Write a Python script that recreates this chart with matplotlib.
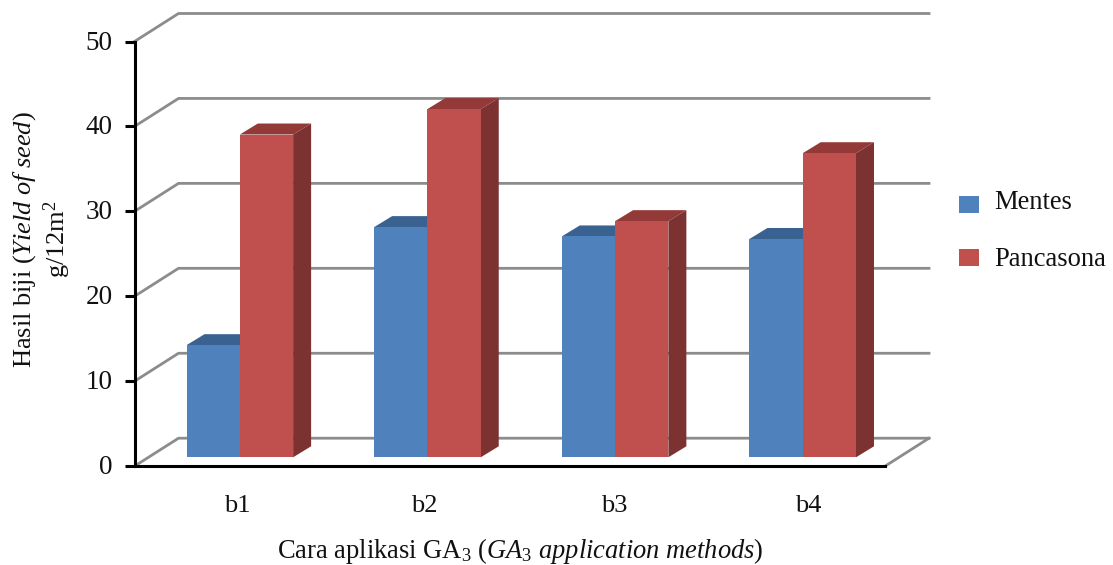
import matplotlib
matplotlib.use('Agg')
import matplotlib.pyplot as plt
from matplotlib.patches import Polygon, Patch, Rectangle
from matplotlib.legend_handler import HandlerPatch
from matplotlib.transforms import Affine2D

plt.rcParams['font.family'] = ['Liberation Serif', 'DejaVu Serif']
plt.rcParams['mathtext.fontset'] = 'custom'
plt.rcParams['mathtext.rm'] = 'Liberation Serif'
plt.rcParams['mathtext.it'] = 'Liberation Serif:italic'
plt.rcParams['mathtext.bf'] = 'Liberation Serif:bold'

categories = ['b1', 'b2', 'b3', 'b4']
mentes = [13.2, 27.1, 26.0, 25.7]
pancasona = [38.0, 41.0, 27.8, 35.8]
y_ticks = [0, 10, 20, 30, 40, 50]

W, H = 1113, 565
L, R, T, B = 134.5, 885.0, 41.5, 466.2
fig = plt.figure(figsize=(W / 100, H / 100), dpi=100)
ax = fig.add_axes([L / W, (H - B) / H, (R - L) / W, (B - T) / H])
ax.set_xlim(0, len(categories))
ax.set_ylim(0, 50)

px_x = (R - L) / len(categories)
px_y = (B - T) / 50

# Depth offsets (px converted to data units)
wall_dx, wall_dy = 44 / px_x, 28 / px_y
bar_dx, bar_dy = 11.5 / px_x, 8.9 / px_y
depth_dx, depth_dy = 18 / px_x, 11 / px_y
bar_w = 53.3 / px_x

# Back wall grid and floor
GRID = '#8c8c8c'
for v in y_ticks:
    ax.plot([0, wall_dx, len(categories) + wall_dx], [v, v + wall_dy, v + wall_dy],
            color=GRID, lw=2.0, clip_on=False, zorder=1, solid_joinstyle='miter')
ax.plot([len(categories), len(categories) + wall_dx], [0, wall_dy],
        color=GRID, lw=2.0, clip_on=False, zorder=1)


def draw_bars(values, offset, face, top, side, z):
    for i, v in enumerate(values):
        x0 = i + 0.5 + bar_dx + offset * bar_w
        x1 = x0 + bar_w
        y0 = bar_dy
        y1 = v + bar_dy
        ax.bar(x0, v, width=bar_w, bottom=y0, align='edge', color=face,
               clip_on=False, zorder=z + 0.2, linewidth=0)
        ax.add_patch(Polygon([(x0, y1), (x1, y1), (x1 + depth_dx, y1 + depth_dy),
                              (x0 + depth_dx, y1 + depth_dy)], closed=True,
                             facecolor=top, edgecolor='none', clip_on=False, zorder=z))
        ax.add_patch(Polygon([(x1, y0), (x1 + depth_dx, y0 + depth_dy),
                              (x1 + depth_dx, y1 + depth_dy), (x1, y1)], closed=True,
                             facecolor=side, edgecolor='none', clip_on=False, zorder=z))


draw_bars(mentes, -1, '#4f81bd', '#3a6291', '#33567f', 2)
draw_bars(pancasona, 0, '#c0504d', '#933a38', '#7c3230', 3)

for s in ('top', 'right'):
    ax.spines[s].set_visible(False)
for s in ('left', 'bottom'):
    ax.spines[s].set_linewidth(2.2)
    ax.spines[s].set_zorder(5)
ax.patch.set_visible(False)

ax.set_yticks(y_ticks)
ax.tick_params(axis='y', length=7, width=2.2, pad=8.6, labelsize=19.5)
ax.set_xticks([])

TXT = '#111111'
fig.canvas.draw()
for lab in ax.get_yticklabels():
    lab.set_color(TXT)
    lab.set_transform(lab.get_transform() + Affine2D().translate(0, 1.5))

label_px = [237, 424, 614, 808]
for c, xp in zip(categories, label_px):
    fig.text(xp / W, 1 - 506 / H, c, ha='center', va='center', fontsize=19, color=TXT)

fig.text(520 / W, 1 - 551 / H,
         r'Cara aplikasi GA$_{3}$ ($\mathit{GA}_{3}$ $\mathit{application\ methods}$)',
         ha='center', va='center', fontsize=19.1, color=TXT)
fig.text(25 / W, 1 - 240 / H, r'Hasil biji $\mathit{(Yield\ of\ seed)}$', rotation=90,
         ha='center', va='center', fontsize=19, color=TXT)
fig.text(57 / W, 1 - 239.5 / H, r'g/12m$^{2}$', rotation=90,
         ha='center', va='center', fontsize=19, color=TXT)

swatch_shift = {'Mentes': -2.9, 'Pancasona': 0.2}


def swatch(legend, orig_handle, xdescent, ydescent, width, height, fontsize):
    return Rectangle((0, swatch_shift[orig_handle.get_label()]), width, height)


handles = [Patch(facecolor='#4f81bd', label='Mentes'),
           Patch(facecolor='#c0504d', label='Pancasona')]
leg = fig.legend(handles=handles, loc='upper left',
                 bbox_to_anchor=(950 / W, 1 - 181 / H), frameon=False, fontsize=19.1,
                 handlelength=0.75, handleheight=0.6, handletextpad=0.55,
                 labelspacing=1.2, borderpad=0.35, borderaxespad=0,
                 labelcolor=TXT,
                 handler_map={Patch: HandlerPatch(patch_func=swatch)})

fig.savefig('out.png', dpi=100)
